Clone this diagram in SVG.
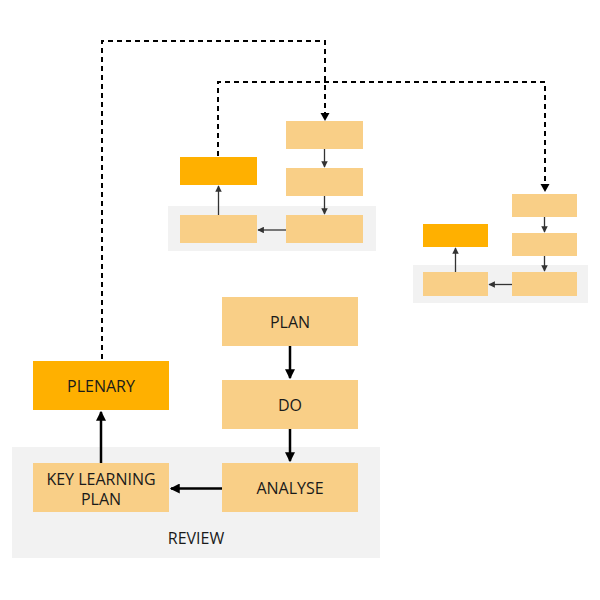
<svg xmlns="http://www.w3.org/2000/svg" width="600" height="600" viewBox="0 0 600 600">
<style>
.bg{fill:#f2f2f2}
.lt{fill:#f9cf87}
.dk{fill:#ffb000}
.t{font-family:"Open Sans","Noto Sans",sans-serif;font-size:16px;fill:#1a1a1a;text-anchor:middle}
.thick{stroke:#000;stroke-width:2.5;fill:none}
.thin{stroke:#333;stroke-width:1.3;fill:none}
.dash{stroke:#000;stroke-width:2;fill:none;stroke-dasharray:5,4}
</style>
<defs>
<marker id="ah" markerWidth="4" markerHeight="4" refX="3.5" refY="2" orient="auto" markerUnits="strokeWidth"><path d="M0,0 L4,2 L0,4 z" fill="#000"/></marker>
<marker id="as" markerWidth="5" markerHeight="5" refX="4.5" refY="2.5" orient="auto" markerUnits="strokeWidth"><path d="M0,0 L5,2.5 L0,5 z" fill="#333"/></marker>
</defs>
<rect class="bg" x="12" y="447" width="368" height="111"/>
<rect class="bg" x="168" y="206" width="208" height="45"/>
<rect class="bg" x="413" y="265" width="175" height="38"/>
<g id="plan"><rect class="lt" x="222" y="297" width="136" height="49"/><text class="t" x="290" y="327.5">PLAN</text></g>
<g id="do"><rect class="lt" x="222" y="380" width="136" height="49"/><text class="t" x="290" y="410.5">DO</text></g>
<g id="analyse"><rect class="lt" x="222" y="463" width="136" height="49"/><text class="t" x="290" y="493.5">ANALYSE</text></g>
<g id="klp"><rect class="lt" x="33" y="463" width="136" height="49"/><text class="t" x="101" y="484.5">KEY LEARNING</text><text class="t" x="101" y="504.5">PLAN</text></g>
<g id="plenary"><rect class="dk" x="33" y="361" width="136" height="49"/><text class="t" x="101" y="391.5">PLENARY</text></g>
<text class="t" x="196" y="543.5">REVIEW</text>
<g id="m1"><rect class="lt" x="286" y="121" width="77" height="28"/></g>
<g id="m2"><rect class="lt" x="286" y="168" width="77" height="28"/></g>
<g id="m3"><rect class="lt" x="286" y="215" width="77" height="28"/></g>
<g id="m4"><rect class="lt" x="180" y="215" width="77" height="28"/></g>
<g id="m5"><rect class="dk" x="180" y="157" width="77" height="28"/></g>
<g id="r1"><rect class="lt" x="512" y="194" width="65" height="23"/></g>
<g id="r2"><rect class="lt" x="512" y="233" width="65" height="23"/></g>
<g id="r3"><rect class="lt" x="512" y="272" width="65" height="24"/></g>
<g id="r4"><rect class="lt" x="423" y="272" width="65" height="24"/></g>
<g id="r5"><rect class="dk" x="423" y="224" width="65" height="23"/></g>
<g id="connectors">
<path class="thick" d="M290,346 V378" marker-end="url(#ah)"/>
<path class="thick" d="M290,429 V461" marker-end="url(#ah)"/>
<path class="thick" d="M222,488.5 H171" marker-end="url(#ah)"/>
<path class="thick" d="M101,463 V412" marker-end="url(#ah)"/>
<path class="dash" d="M102,359 V41 H325 V116"/>
<path d="M320.5,113 L329.5,113 L325,121 z" fill="#000"/>
<path class="dash" d="M218,156 V82 H545 V187"/>
<path d="M540.5,184 L549.5,184 L545,192 z" fill="#000"/>
<path class="thin" d="M324.5,149 V167" marker-end="url(#as)"/>
<path class="thin" d="M324.5,196 V214" marker-end="url(#as)"/>
<path class="thin" d="M286,230 H258" marker-end="url(#as)"/>
<path class="thin" d="M218.5,215 V186" marker-end="url(#as)"/>
<path class="thin" d="M544.5,217 V232" marker-end="url(#as)"/>
<path class="thin" d="M544.5,256 V271" marker-end="url(#as)"/>
<path class="thin" d="M512,284.5 H489" marker-end="url(#as)"/>
<path class="thin" d="M455.5,272 V248" marker-end="url(#as)"/>
</g>
</svg>
